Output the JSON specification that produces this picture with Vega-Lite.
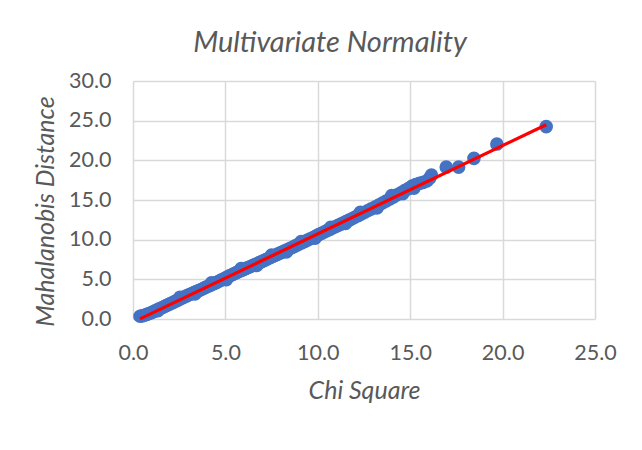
{
  "$schema": "https://vega.github.io/schema/vega-lite/v6.json",
  "width": 462,
  "height": 238,
  "autosize": {"type": "none"},
  "padding": {"left": 133, "top": 81, "right": 47, "bottom": 131},
  "background": "white",
  "title": {"text": "Multivariate Normality", "font": "Lato", "fontSize": 29, "fontStyle": "italic", "fontWeight": "normal", "color": "#595959", "anchor": "middle", "dx": -34, "baseline": "alphabetic", "offset": -11},
  "data": {"values": [
    {"x": 0.38, "y": 0.35}, {"x": 0.50, "y": 0.40}, {"x": 0.62, "y": 0.48}, {"x": 0.75, "y": 0.58}, {"x": 0.88, "y": 0.70},
    {"x": 1.00, "y": 0.80}, {"x": 1.10, "y": 0.92}, {"x": 1.20, "y": 1.02}, {"x": 1.30, "y": 1.12}, {"x": 1.40, "y": 1.25},
    {"x": 1.50, "y": 1.35}, {"x": 1.60, "y": 1.45}, {"x": 1.70, "y": 1.58}, {"x": 1.80, "y": 1.68}, {"x": 1.90, "y": 1.80},
    {"x": 2.00, "y": 1.90}, {"x": 2.10, "y": 2.02}, {"x": 2.20, "y": 2.12}, {"x": 2.30, "y": 2.25}, {"x": 2.40, "y": 2.35},
    {"x": 2.50, "y": 2.48}, {"x": 2.60, "y": 2.58}, {"x": 2.70, "y": 2.70}, {"x": 2.80, "y": 2.80}, {"x": 2.90, "y": 2.92},
    {"x": 3.00, "y": 3.02}, {"x": 3.10, "y": 3.12}, {"x": 3.20, "y": 3.22}, {"x": 3.30, "y": 3.32}, {"x": 3.40, "y": 3.42},
    {"x": 3.50, "y": 3.52}, {"x": 3.60, "y": 3.62}, {"x": 3.70, "y": 3.72}, {"x": 3.80, "y": 3.84}, {"x": 3.90, "y": 3.95},
    {"x": 4.00, "y": 4.06}, {"x": 4.10, "y": 4.16}, {"x": 4.20, "y": 4.27}, {"x": 4.30, "y": 4.38}, {"x": 4.40, "y": 4.48},
    {"x": 4.50, "y": 4.58}, {"x": 4.60, "y": 4.70}, {"x": 4.70, "y": 4.82}, {"x": 4.80, "y": 4.93}, {"x": 4.90, "y": 5.05},
    {"x": 5.00, "y": 5.17}, {"x": 5.10, "y": 5.29}, {"x": 5.20, "y": 5.40}, {"x": 5.30, "y": 5.52}, {"x": 5.40, "y": 5.63},
    {"x": 5.50, "y": 5.74}, {"x": 5.60, "y": 5.84}, {"x": 5.70, "y": 5.95}, {"x": 5.80, "y": 6.05}, {"x": 5.90, "y": 6.15},
    {"x": 6.00, "y": 6.26}, {"x": 6.12, "y": 6.38}, {"x": 6.24, "y": 6.50}, {"x": 6.36, "y": 6.62}, {"x": 6.48, "y": 6.74},
    {"x": 6.60, "y": 6.86}, {"x": 6.72, "y": 6.98}, {"x": 6.84, "y": 7.10}, {"x": 6.96, "y": 7.23}, {"x": 7.08, "y": 7.36},
    {"x": 7.20, "y": 7.49}, {"x": 7.32, "y": 7.62}, {"x": 7.44, "y": 7.75}, {"x": 7.56, "y": 7.88}, {"x": 7.68, "y": 8.01},
    {"x": 7.80, "y": 8.14}, {"x": 7.92, "y": 8.27}, {"x": 8.04, "y": 8.40}, {"x": 8.16, "y": 8.54}, {"x": 8.28, "y": 8.67},
    {"x": 8.40, "y": 8.80}, {"x": 8.52, "y": 8.92}, {"x": 8.64, "y": 9.05}, {"x": 8.76, "y": 9.18}, {"x": 8.88, "y": 9.32},
    {"x": 9.00, "y": 9.45}, {"x": 9.15, "y": 9.62}, {"x": 9.30, "y": 9.78}, {"x": 9.45, "y": 9.95}, {"x": 9.60, "y": 10.12},
    {"x": 9.75, "y": 10.28}, {"x": 9.90, "y": 10.46}, {"x": 10.05, "y": 10.63}, {"x": 10.20, "y": 10.80}, {"x": 10.35, "y": 10.97},
    {"x": 10.50, "y": 11.14}, {"x": 10.65, "y": 11.30}, {"x": 10.80, "y": 11.47}, {"x": 10.95, "y": 11.63}, {"x": 11.10, "y": 11.80},
    {"x": 11.25, "y": 11.96}, {"x": 11.40, "y": 12.13}, {"x": 11.55, "y": 12.30}, {"x": 11.70, "y": 12.47}, {"x": 11.85, "y": 12.64},
    {"x": 12.00, "y": 12.82}, {"x": 12.18, "y": 13.03}, {"x": 12.36, "y": 13.25}, {"x": 12.54, "y": 13.46}, {"x": 12.72, "y": 13.67},
    {"x": 12.90, "y": 13.88}, {"x": 13.10, "y": 14.12}, {"x": 13.30, "y": 14.37}, {"x": 13.50, "y": 14.62}, {"x": 13.70, "y": 14.88},
    {"x": 13.90, "y": 15.13}, {"x": 14.10, "y": 15.40}, {"x": 14.30, "y": 15.66}, {"x": 14.50, "y": 15.92}, {"x": 14.70, "y": 16.18},
    {"x": 14.90, "y": 16.44}, {"x": 15.10, "y": 16.75}, {"x": 15.30, "y": 16.95}, {"x": 15.50, "y": 17.10}, {"x": 15.70, "y": 17.22},
    {"x": 15.90, "y": 17.40}, {"x": 16.05, "y": 17.75}, {"x": 16.15, "y": 18.15}, {"x": 16.95, "y": 19.15}, {"x": 17.62, "y": 19.15},
    {"x": 18.45, "y": 20.25}, {"x": 19.69, "y": 22.05}, {"x": 22.36, "y": 24.25},
    {"x": 1.35, "y": 1.05}, {"x": 2.55, "y": 2.75}, {"x": 3.35, "y": 3.15}, {"x": 4.25, "y": 4.55}, {"x": 5.05, "y": 4.95},
    {"x": 5.85, "y": 6.35}, {"x": 6.70, "y": 6.75}, {"x": 7.50, "y": 8.05}, {"x": 8.30, "y": 8.45}, {"x": 9.10, "y": 9.75},
    {"x": 9.85, "y": 10.20}, {"x": 10.70, "y": 11.55}, {"x": 11.50, "y": 12.05}, {"x": 12.30, "y": 13.45}, {"x": 13.20, "y": 14.00},
    {"x": 14.00, "y": 15.55}, {"x": 14.60, "y": 15.80}, {"x": 15.20, "y": 16.50}
  ]},
  "encoding": {
    "x": {"field": "x", "type": "quantitative", "scale": {"domain": [0, 25], "nice": false, "zero": false},
      "axis": {"values": [0, 5, 10, 15, 20, 25], "format": ".1f", "labelPadding": 23, "labelOverlap": false, "title": "Chi Square", "titleX": 231, "titleY": 79}},
    "y": {"field": "y", "type": "quantitative", "scale": {"domain": [0, 30], "nice": false, "zero": false},
      "axis": {"values": [0, 5, 10, 15, 20, 25, 30], "format": ".1f", "labelPadding": 22, "labelOverlap": false, "title": "Mahalanobis Distance", "titleX": -80, "titleY": 130, "titleAngle": -90}}
  },
  "layer": [
    {
      "mark": {"type": "point", "filled": true, "shape": "circle", "size": 185, "color": "#4472C4", "opacity": 1}
    },
    {
      "transform": [{"regression": "y", "on": "x"}],
      "mark": {"type": "line", "color": "#FF0000", "strokeWidth": 3.25}
    }
  ],
  "config": {
    "view": {"stroke": null},
    "axis": {
      "labelFont": "Lato", "labelFontSize": 21.5, "labelColor": "#595959",
      "titleFont": "Lato", "titleFontSize": 25, "titleFontStyle": "italic", "titleFontWeight": "normal", "titleColor": "#595959",
      "titleBaseline": "alphabetic", "titleAlign": "center", "titleAnchor": null,
      "ticks": false, "domain": false, "grid": true, "gridColor": "#d9d9d9", "gridWidth": 1.5,
      "labelOverlap": false, "labelFlush": false
    }
  }
}
